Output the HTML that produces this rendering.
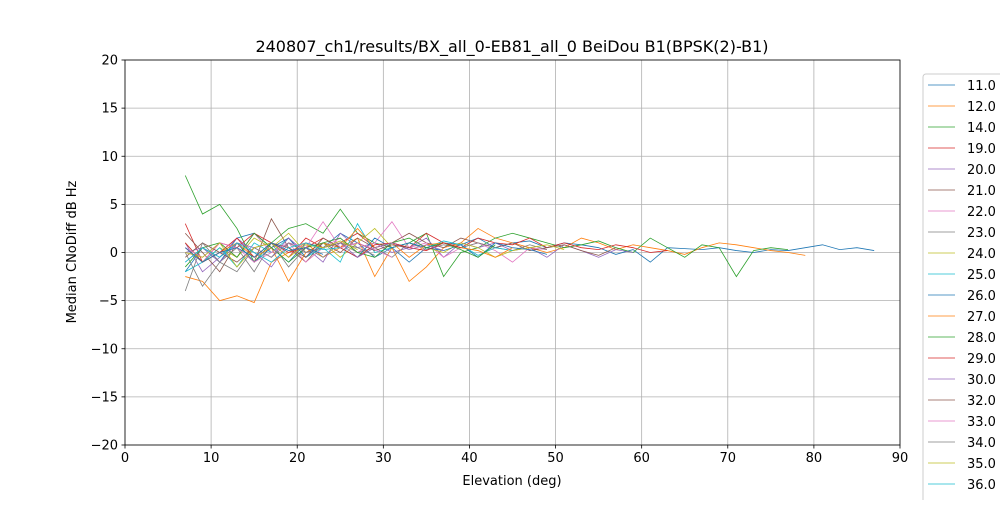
<!DOCTYPE html>
<html><head><meta charset="utf-8"><style>
body{margin:0;background:#fff;font-family:"Liberation Sans","DejaVu Sans",sans-serif}
svg text{font-family:"DejaVu Sans","Liberation Sans",sans-serif}
</style></head><body>
<svg id="c" width="1000" height="500" xmlns="http://www.w3.org/2000/svg"></svg>
<script>
const xTicks=[0,10,20,30,40,50,60,70,80,90];
const yTicks=[-20,-15,-10,-5,0,5,10,15,20];
const seriesNames=["11.0","12.0","14.0","19.0","20.0","21.0","22.0","23.0","24.0","25.0","26.0","27.0","28.0","29.0","30.0","32.0","33.0","34.0","35.0","36.0","37.0"];
const startElev=[7,7,7,7,7,7,7,7,7,7,7,7,7,7,7,7,7,7,7,7,7];
const s0=[-2,0.5,-1,1.5,2,0.5,-1,1,0.5,2,1,-0.5,0.5,-1,0.5,1,0.8,1.5,0.5,1,1.2,0.5,1,0.8,0.5,-0.2,0.3,-1,0.5,0.4,0.3,0.5,0.2,0,0.3,0.2,0.5,0.8,0.3,0.5,0.2];
const s1=[-2.5,-3,-5,-4.5,-5.2,-1,0,1,-0.5,0.5,1.5,-2.5,0.5,-3,-1.5,0.5,1,2.5,1.5,1,0.5,0,0.5,1.5,1,0.3,0.8,0.5,0.2,-0.2,0.5,1,0.8,0.5,0.2,0,-0.3];
const s2=[8,4,5,2.5,-1,1,2.5,3,2,4.5,2,1,0.5,1,2,-2.5,0,0.5,1.5,2,1.5,1,0.5,0.8,1.2,0.5,0,1.5,0.5,-0.5,0.8,0.5,-2.5,0.2,0.5,0.3];
const s3=[3,-1,1,0.5,2,1,-0.5,1.5,0.5,1,2,0.5,1,0.5,2,1,0.5,1.5,1,0.8,1.5,0.5,1,0.5,0.3,0.8,0.5,0,0.2];
const s4=[1,-2,-0.5,1.5,0,-1.5,1,0.5,-1,2,0.5,1,0,0.5,1.5,-0.5,1,0.5,1,0.2,0.5,-0.5,0.8,0.2,-0.5,0.3,0];
const s5=[2,0,-2,1,-1,3.5,0.5,-1,1,0,1.5,0.5,1,2,1,0.5,1.5,1,0.5,1,0.2,0.5,0.8,0.2,-0.3,0.5];
const s6=[0.5,-1,1,-0.5,2,0,1,-1,0.5,1.5,0,1,3.2,0.5,1,-0.5,0.5,1,0.2,-1,0.5,0.3];
const s7=[0,-3.5,-1,0.5,-2,1,-1.5,0.5,-0.5,1,0,0.5,-0.5,1,0.3,0.8,0.5,1,0.5,0.2,0.8,0.3];
const s8=[1,-1,0.5,-0.5,1.5,0.5,2,0,1,-0.5,1,2.5,0.5,1,0.5,0,1,0.5,-0.5,0.2,0.5,0.8,0.3];
const s9=[-2,-1,0.5,-1.5,1,0,1.5,-0.5,0.5,-1,3,0,0.5,1,0.5,1.2,0.8,-0.3,0.5,0.2];
const s10=[-1,0.5,-0.5,1,-1,0.5,1.5,-0.5,1,0.5,-0.5,1.5,0.5,1,0.5,0.2,0.8,-0.5,1,0.5,0.3,-0.2];
const s11=[0.5,-1,0,1,-0.5,0.5,-3,0,1,0.5,2.5,0.5,1,-0.5,0.8,1,0.5,0.2,-0.5,0.5];
const s12=[-1.5,0.5,1,-0.5,2,0.5,-1,0.5,1,1.5,0,-0.5,1,1.5,0.5,1,0.3,-0.5,0.8];
const s13=[1,-1,0,1.5,-0.5,1,0,0.5,1.5,0.5,-0.5,0.8,1,0.5,0.2,1,0.5];
const s14=[0,0.5,-1,1,0.5,-0.5,1.5,0,0.5,1,-0.5,0.5,1,0.3,0.8,0.2];
const s15=[-0.5,1,0,-1,0.5,1,0.5,-0.5,1.5,0.5,1,0.2,0.8,0.5];
const s16=[0.5,-0.5,1,0.5,-1,0,1,0.5,3.2,0.5,1,0.3,-0.5];
const s17=[-4,1,-1,-2,0.5,-0.5,1,0,0.5,1,0.5,-0.3];
const s18=[0,-0.5,1,-1.5,0.5,1,-0.5,0.8,0.5,1.2,0.3];
const s19=[-1,0.5,-0.5,1,0,-1,0.5,1,0.3,0.5];
const s20=[0.5,-1,0,0.5,-0.5,1,0.2,0.5,-0.2];
const seriesVals=[s0,s1,s2,s3,s4,s5,s6,s7,s8,s9,s10,s11,s12,s13,s14,s15,s16,s17,s18,s19,s20];
const colors=["#1f77b4","#ff7f0e","#2ca02c","#d62728","#9467bd","#8c564b","#e377c2","#7f7f7f","#bcbd22","#17becf"];
const NS="http://www.w3.org/2000/svg";
const svg=document.getElementById('c');
const L=125,R=900,T=60,B=445;
const xs=v=>L+(v-0)/90*(R-L);
const ys=v=>B-(v+20)/40*(B-T);
const fmt=t=>t<0?'\u2212'+(-t):String(t);
function mk(t,a,p){const e=document.createElementNS(NS,t);for(const k in a)e.setAttribute(k,a[k]);(p||svg).appendChild(e);return e;}
const grid=mk('g',{});


xTicks.forEach(t=>{mk('line',{x1:xs(t),x2:xs(t),y1:T,y2:B,stroke:'#b0b0b0','stroke-width':0.8},grid);
 mk('line',{x1:xs(t),x2:xs(t),y1:B,y2:B+3.5,stroke:'#000','stroke-width':0.8});
 const tx=mk('text',{x:xs(t),y:B+17,'font-size':13,'text-anchor':'middle'});tx.textContent=fmt(t);
 
 });
yTicks.forEach(t=>{mk('line',{x1:L,x2:R,y1:ys(t),y2:ys(t),stroke:'#b0b0b0','stroke-width':0.8},grid);
 mk('line',{x1:L-3.5,x2:L,y1:ys(t),y2:ys(t),stroke:'#000','stroke-width':0.8});
 const tx=mk('text',{x:L-7,y:ys(t)+4.5,'font-size':13,'text-anchor':'end'});tx.textContent=fmt(t);
 
 });
const clip=mk('clipPath',{id:'cp'});mk('rect',{x:L,y:T,width:R-L,height:B-T},clip);
seriesVals.forEach((vals,i)=>{
 const pts=vals.map((v,j)=>xs(startElev[i]+j*2)+','+ys(v)).join(' ');
 const pl=mk('polyline',{points:pts,fill:'none',stroke:colors[i%10],'stroke-width':0.8,'clip-path':'url(#cp)'});
 
 
});
const fr=mk('rect',{x:L,y:T,width:R-L,height:B-T,fill:'none',stroke:'#000','stroke-width':0.8});


const ti=mk('text',{x:512,y:52,'font-size':16,'text-anchor':'middle'});ti.textContent='240807_ch1/results/BX_all_0-EB81_all_0 BeiDou B1(BPSK(2)-B1)';


const xl=mk('text',{x:512,y:485,'font-size':13,'text-anchor':'middle'});xl.textContent='Elevation (deg)';


const yl=mk('text',{x:76,y:252,'font-size':13,'text-anchor':'middle',transform:'rotate(-90 76 252)'});yl.textContent='Median CNoDiff dB Hz';


const lg=mk('g',{});


mk('rect',{x:923,y:74,width:90,height:440,rx:3,fill:'#fff',stroke:'#ccc','stroke-width':1},lg);
seriesNames.forEach((n,i)=>{const y=85+i*21;
 mk('line',{x1:928,x2:955,y1:y,y2:y,stroke:colors[i%10],'stroke-width':0.8},lg);
 const t=mk('text',{x:967,y:y+5,'font-size':13},lg);t.textContent=n;
 
 });
</script>
</body></html>
